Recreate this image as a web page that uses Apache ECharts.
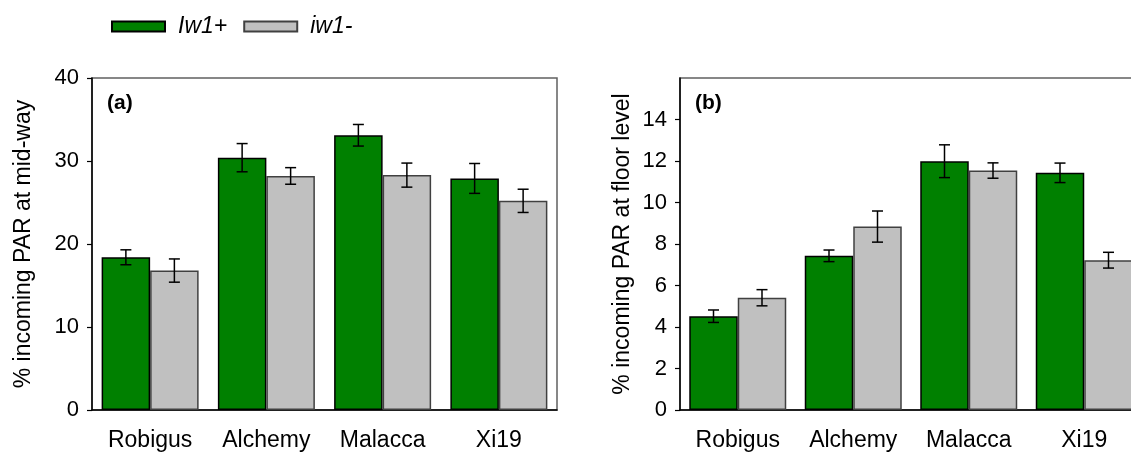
<!DOCTYPE html>
<html>
<head>
<meta charset="utf-8">
<script src="https://cdn.jsdelivr.net/npm/echarts@6/dist/echarts.min.js"></script>
<style>html,body{margin:0;padding:0;background:#fff;overflow:hidden}#c{width:1160px;height:452px}</style>
</head>
<body>
<div id="c"></div>
<script>
var categories = ['Robigus', 'Alchemy', 'Malacca', 'Xi19'];
var seriesNames = ['Iw1+', 'iw1-'];
// Panel (a): % incoming PAR at mid-way
var midPlus = [18.4, 30.4, 33.1, 27.9];
var midPlusErr = [0.9, 1.7, 1.3, 1.8];
var midMinus = [16.8, 28.2, 28.3, 25.2];
var midMinusErr = [1.4, 1.0, 1.45, 1.4];
// Panel (b): % incoming PAR at floor level
var floorPlus = [4.52, 7.43, 11.99, 11.43];
var floorPlusErr = [0.3, 0.28, 0.79, 0.47];
var floorMinus = [5.41, 8.84, 11.54, 7.22];
var floorMinusErr = [0.39, 0.75, 0.37, 0.38];
var ticksA = [0, 10, 20, 30, 40];
var ticksB = [0, 2, 4, 6, 8, 10, 12, 14];

var FONT = "'Liberation Sans', Arial, sans-serif";
var GREEN = '#008000', GRAY = '#c0c0c0';
var barW = 48.5;

function errData(vals, errs) {
  return vals.map(function (v, i) { return [i, v, errs[i]]; });
}
function errRender(sign) {
  return function (params, api) {
    var i = api.value(0), v = api.value(1), e = api.value(2);
    var t = api.coord([i, v + e]);
    var b = api.coord([i, v - e]);
    var cx = t[0] + sign * barW / 2;
    var cap = 5.5;
    var st = { stroke: '#000', lineWidth: 1.5 };
    return {
      type: 'group',
      children: [
        { type: 'line', shape: { x1: cx, y1: t[1], x2: cx, y2: b[1] }, style: st },
        { type: 'line', shape: { x1: cx - cap, y1: t[1], x2: cx + cap, y2: t[1] }, style: st },
        { type: 'line', shape: { x1: cx - cap, y1: b[1], x2: cx + cap, y2: b[1] }, style: st }
      ]
    };
  };
}

function xAxis(gi) {
  return {
    type: 'category', gridIndex: gi, data: categories,
    axisLine: { lineStyle: { color: '#000', width: 1.5 } },
    axisTick: { alignWithLabel: true, length: 7, lineStyle: { color: '#000', width: 1.2 } },
    axisLabel: { color: '#000', fontSize: 23, fontFamily: FONT, margin: 19 }
  };
}
function yAxis(gi, max, interval, ticks, name, gap) {
  return {
    type: 'value', gridIndex: gi, min: 0, max: max, interval: interval,
    name: name, nameLocation: 'middle', nameGap: gap, nameRotate: 90,
    nameTextStyle: { color: '#000', fontSize: 23, fontFamily: FONT },
    splitLine: { show: false },
    axisLine: { show: true, lineStyle: { color: '#000', width: 1.5 } },
    axisTick: { show: true, length: 5, customValues: ticks, lineStyle: { color: '#000', width: 1.2 } },
    axisLabel: { color: '#000', fontSize: 22, fontFamily: FONT, margin: 13, customValues: ticks }
  };
}
function bar(name, gi, data, color, border) {
  return {
    name: name, type: 'bar', xAxisIndex: gi, yAxisIndex: gi, data: data,
    barWidth: barW, barGap: '0%',
    itemStyle: { color: color, borderColor: border, borderWidth: 1.5 },
    emphasis: { disabled: true }, z: 2
  };
}
function err(gi, vals, errs, sign) {
  return {
    type: 'custom', xAxisIndex: gi, yAxisIndex: gi, data: errData(vals, errs),
    renderItem: errRender(sign), z: 5, silent: true
  };
}

var chart = echarts.init(document.getElementById('c'), null, { renderer: 'canvas' });
chart.setOption({
  animation: false,
  backgroundColor: '#fff',
  legend: {
    data: seriesNames, left: 111, top: 15, padding: 0, icon: 'rect',
    itemWidth: 53, itemHeight: 10, itemGap: 16,
    textStyle: { fontSize: 23, fontStyle: 'italic', fontFamily: FONT, color: '#000', padding: [0, 0, 0, 8] }
  },
  title: [
    { text: '(a)', left: 102, top: 88, textStyle: { fontSize: 21, fontWeight: 'bold', fontFamily: FONT, color: '#000' } },
    { text: '(b)', left: 690, top: 88, textStyle: { fontSize: 21, fontWeight: 'bold', fontFamily: FONT, color: '#000' } }
  ],
  grid: [
    { left: 92, top: 78, width: 465, height: 334, show: true, borderColor: '#606060', borderWidth: 1.5 },
    { left: 680, top: 78, width: 462, height: 334, show: true, borderColor: '#606060', borderWidth: 1.5 }
  ],
  xAxis: [xAxis(0), xAxis(1)],
  yAxis: [
    yAxis(0, 40, 10, ticksA, '% incoming PAR at mid-way', 57),
    yAxis(1, 16, 2, ticksB, '% incoming PAR at floor level', 46)
  ],
  series: [
    bar(seriesNames[0], 0, midPlus, GREEN, '#000'),
    bar(seriesNames[1], 0, midMinus, GRAY, '#404040'),
    err(0, midPlus, midPlusErr, -1),
    err(0, midMinus, midMinusErr, 1),
    bar(seriesNames[0], 1, floorPlus, GREEN, '#000'),
    bar(seriesNames[1], 1, floorMinus, GRAY, '#404040'),
    err(1, floorPlus, floorPlusErr, -1),
    err(1, floorMinus, floorMinusErr, 1)
  ]
});
</script>
</body>
</html>
